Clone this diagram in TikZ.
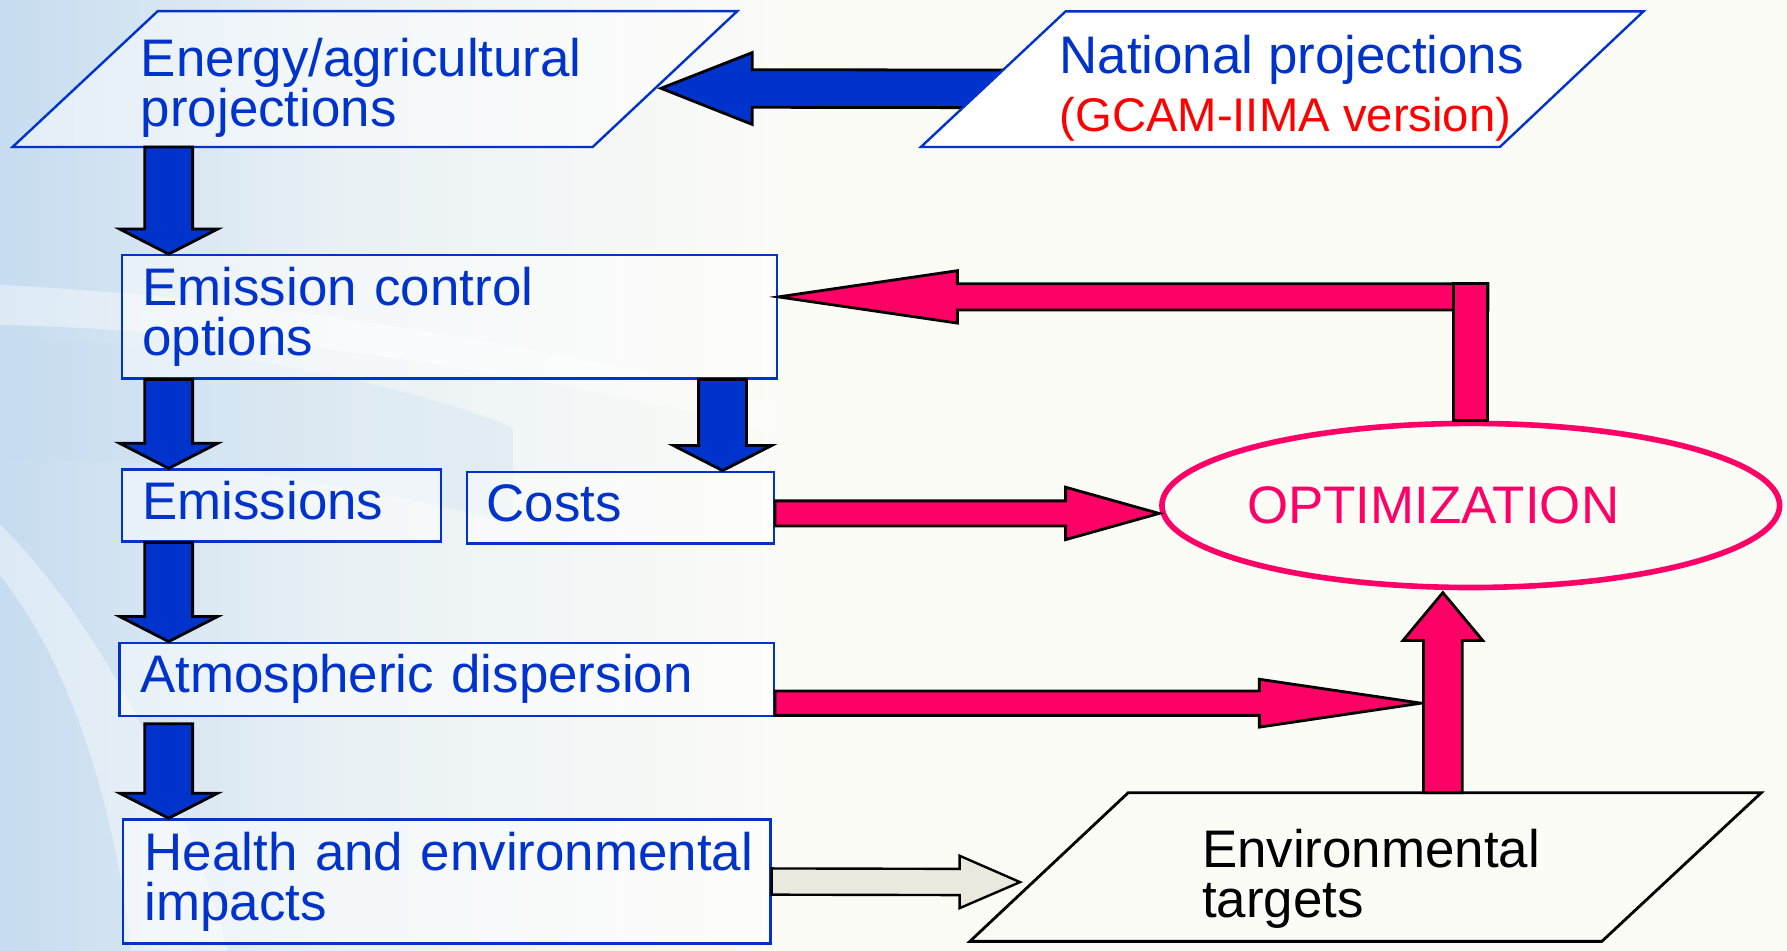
\documentclass[tikz,border=0pt]{standalone}
\usepackage{fontspec}
\setmainfont{Liberation Sans}
\usetikzlibrary{calc,shapes.geometric}

\definecolor{ppblue}{RGB}{0,51,204}
\definecolor{pppink}{RGB}{255,0,102}
\definecolor{ppred}{RGB}{255,0,0}
\definecolor{ppgrey}{RGB}{234,232,223}
\definecolor{ppback}{RGB}{252,252,247}
\definecolor{ppsky}{RGB}{198,220,240}

\newcommand{\bodyfont}{\fontsize{13.2}{12.5}\selectfont}
\newcommand{\notefont}{\fontsize{11.8}{12.5}\selectfont}

% block arrow: [style]{from}{to}{half shaft}{half head}{head length}
\newcommand{\fatarrow}[6][]{%
  \coordinate (fa-s) at #2;
  \coordinate (fa-t) at #3;
  \coordinate (fa-b) at ($(fa-t)!#6!(fa-s)$);
  \draw[#1] ($(fa-s)!#4!90:(fa-t)$) -- ($(fa-b)!#4!90:(fa-t)$)
    -- ($(fa-b)!#5!90:(fa-t)$) -- (fa-t) -- ($(fa-b)!#5!-90:(fa-t)$)
    -- ($(fa-b)!#4!-90:(fa-t)$) -- ($(fa-s)!#4!-90:(fa-t)$) -- cycle;}

\begin{document}
\begin{tikzpicture}[
    box/.style={draw=ppblue, line width=0.6pt, fill=white, fill opacity=0.5, text opacity=1,
        text=ppblue, font=\bodyfont, inner xsep=0.18cm, inner ysep=0pt, align=left},
    oneline/.style={text height=0.34cm, text depth=0.1cm},
    txt/.style={font=\bodyfont, inner sep=0pt, align=left, anchor=west},
    slanted/.style={draw=ppblue, line width=0.6pt},
    bluefat/.style={draw=black, line width=0.7pt, fill=ppblue},
    pinkfat/.style={draw=black, line width=0.7pt, fill=pppink},
    greyfat/.style={draw=black, line width=0.6pt, fill=ppgrey},
    optim/.style={ellipse, draw=pppink, line width=1.4pt, minimum width=5.42cm,
        minimum height=1.44cm, inner sep=0pt}
]
\useasboundingbox (0,0) rectangle (15.68,-8.34);

% background
\fill[ppback] (0,0) rectangle (15.68,-8.34);
\shade[left color=ppsky, right color=ppsky!35!ppback] (0,0) rectangle (3,-8.34);
\shade[left color=ppsky!35!ppback, right color=ppback] (3,0) rectangle (7,-8.34);
\fill[white, opacity=0.4] (0,-2.5) .. controls (2,-2.6) and (4.5,-2.95) .. (6.8,-3.55)
    -- (6.8,-3.8) .. controls (4.5,-3.2) and (2,-2.9) .. (0,-2.85) -- cycle;
\fill[ppsky, opacity=0.3] (0,-2.95) .. controls (2,-3.05) and (3.5,-3.35) .. (4.5,-3.75)
    -- (4.5,-4.6) .. controls (3,-4.2) and (1.5,-4.0) .. (0,-4.05) -- cycle;
\fill[white, opacity=0.4] (0,-5.05) .. controls (0.6,-5.8) and (1.0,-7.0) .. (1.15,-8.34)
    -- (2.0,-8.34) .. controls (1.6,-6.9) and (0.9,-5.5) .. (0,-4.6) -- cycle;

% projections
\draw[slanted, fill=white, fill opacity=0.5] (1.385,-0.097) coordinate (en-tl) -- (6.47,-0.097)
    -- (5.20,-1.29) -- (0.11,-1.29) coordinate (en-bl) -- cycle;
\coordinate (nat-in) at (8.80,-0.78);
\coordinate (en-in) at (5.80,-0.775);
\fatarrow[bluefat]{(nat-in)}{(en-in)}{0.165cm}{0.315cm}{0.80cm}
\draw[slanted, fill=white] (9.35,-0.10) -- (14.42,-0.10) -- (13.16,-1.29) -- (8.08,-1.29) -- cycle;
\node[txt, text=ppblue] (energy) at (1.23,-0.77) {Energy/agricultural\\projections};
\node[txt, text=ppblue] (national) at (9.29,-0.778)
    {National projections\\[2pt]{\notefont\color{ppred}(GCAM-IIMA version)}};

% model chain
\node[box, text width=5.39cm, minimum height=1.08cm] (ctrl) at (3.945,-2.78) {Emission control\\options};
\node[box, oneline, text width=2.44cm, minimum height=0.63cm] (emis) at (2.47,-4.435) {Emissions};
\node[box, oneline, text width=2.35cm, minimum height=0.63cm, inner xsep=0.17cm] (costs) at (5.445,-4.455) {Costs};
\node[box, oneline, text width=5.38cm, minimum height=0.64cm] (atmo) at (3.92,-5.96) {Atmospheric dispersion};
\node[box, text width=5.30cm, minimum height=1.09cm, inner xsep=0.19cm] (health) at (3.92,-7.735)
    {\mbox{Health and environmental}\\impacts};

\coordinate (lane) at (1.48,0);
\coordinate (costlane) at (6.34,0);
\fatarrow[bluefat]{(lane |- en-bl)}{(lane |- ctrl.north)}{0.21cm}{0.43cm}{0.22cm}
\fatarrow[bluefat]{(lane |- ctrl.south)}{(lane |- emis.north)}{0.21cm}{0.43cm}{0.22cm}
\fatarrow[bluefat]{(costlane |- ctrl.south)}{(costlane |- costs.north)}{0.21cm}{0.43cm}{0.22cm}
\fatarrow[bluefat]{(lane |- emis.south)}{(lane |- atmo.north)}{0.21cm}{0.43cm}{0.22cm}
\fatarrow[bluefat]{([yshift=-0.06cm]lane |- atmo.south)}{(lane |- health.north)}{0.21cm}{0.43cm}{0.22cm}

% optimisation loop
\node[optim] (opt) at (12.905,-4.435) {};
\node[font=\bodyfont, text=pppink, inner sep=0pt] (opt-text) at (12.575,-4.436) {OPTIMIZATION};

\draw[black, line width=0.7pt, fill=ppback] (9.90,-6.955) coordinate (tg-tl) -- (15.455,-6.955)
    -- (14.055,-8.26) -- (8.51,-8.26) -- cycle;
\node[txt] (targets) at (10.54,-7.71) {Environmental\\targets};

\coordinate (opt-in) at (10.17,-4.505);
\coordinate (up-in) at (12.47,-6.17);
\coordinate (up-lane) at (12.66,0);
\coordinate (opt-low) at (12.66,-5.20);
\coordinate (tg-in) at (8.95,-7.74);
\fatarrow[pinkfat]{([yshift=-0.05cm]costs.east)}{(opt-in)}{0.11cm}{0.23cm}{0.82cm}
\fatarrow[pinkfat]{([yshift=-0.21cm]atmo.east)}{(up-in)}{0.107cm}{0.21cm}{1.42cm}
\fatarrow[pinkfat]{(up-lane |- tg-tl)}{(opt-low)}{0.17cm}{0.35cm}{0.42cm}
\fatarrow[greyfat]{(health.east)}{(tg-in)}{0.115cm}{0.23cm}{0.53cm}

\coordinate (fb) at ([xshift=0.15cm,yshift=1.085cm]opt.north);
\fatarrow[pinkfat]{(fb)}{([yshift=0.175cm]ctrl.east)}{0.115cm}{0.23cm}{1.57cm}
\draw[pinkfat] ([xshift=-0.15cm]opt.north) rectangle ++(0.30,1.20);
\end{tikzpicture}
\end{document}
